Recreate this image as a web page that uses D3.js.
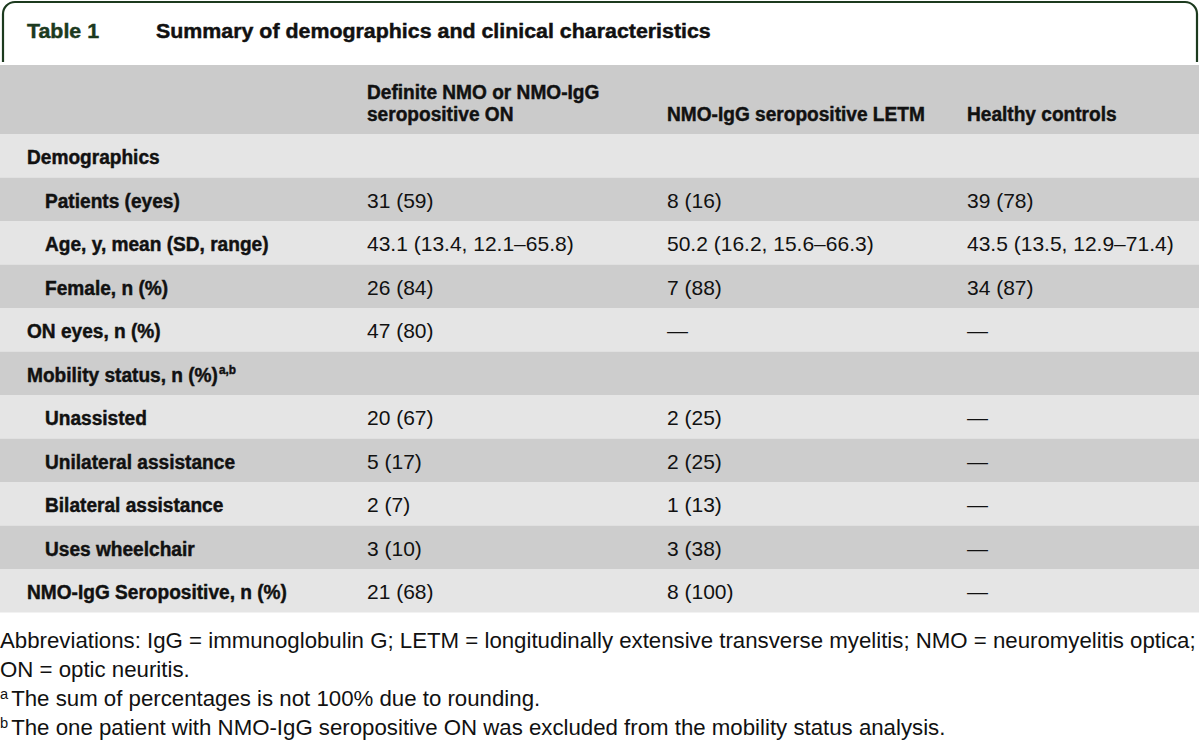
<!DOCTYPE html>
<html><head><meta charset="utf-8">
<script src="https://cdn.jsdelivr.net/npm/d3@7"></script>
<style>
html,body{margin:0;padding:0;background:#fff;}
svg{display:block;}
text{font-family:"Liberation Sans",Arial,sans-serif;}
</style></head>
<body>
<svg id="chart" width="1200" height="743"></svg>
<script>
const tableNumber = "Table 1";
const tableTitle = "Summary of demographics and clinical characteristics";
const headerLines = [
  [],
  ["Definite NMO or NMO-IgG", "seropositive ON"],
  ["NMO-IgG seropositive LETM"],
  ["Healthy controls"]
];
const rowLabels = ["Demographics","Patients (eyes)","Age, y, mean (SD, range)","Female, n (%)","ON eyes, n (%)","Mobility status, n (%)","Unassisted","Unilateral assistance","Bilateral assistance","Uses wheelchair","NMO-IgG Seropositive, n (%)"];
const rowSup = ["","","","","","a,b","","","","",""];
const rowIndent = [0,1,1,1,0,0,1,1,1,1,0];
const nmoOnValues = ["","31 (59)","43.1 (13.4, 12.1–65.8)","26 (84)","47 (80)","","20 (67)","5 (17)","2 (7)","3 (10)","21 (68)"];
const letmValues = ["","8 (16)","50.2 (16.2, 15.6–66.3)","7 (88)","—","","2 (25)","2 (25)","1 (13)","3 (38)","8 (100)"];
const controlValues = ["","39 (78)","43.5 (13.5, 12.9–71.4)","34 (87)","—","","—","—","—","—","—"];
const footnotes = [
  {sup:"", text:"Abbreviations: IgG = immunoglobulin G; LETM = longitudinally extensive transverse myelitis; NMO = neuromyelitis optica;"},
  {sup:"", text:"ON = optic neuritis."},
  {sup:"a", text:"The sum of percentages is not 100% due to rounding."},
  {sup:"b", text:"The one patient with NMO-IgG seropositive ON was excluded from the mobility status analysis."}
];

const W = 1200, H = 743;
const svg = d3.select("#chart");
const green = "#1c3a1e";
const ink = "#111";

function measure(str, weight, size){
  const t = svg.append("text").attr("font-size", size).attr("font-weight", weight).text(str);
  const w = t.node().getComputedTextLength();
  t.remove();
  return w;
}
const titleSize = 20.5, boldSize = 19.5, bodySize = 21;
const kTitle = 555 / measure(tableTitle, "bold", titleSize);
const kBold = 260 / measure("NMO-IgG Seropositive, n (%)", "bold", boldSize);
const footSize = 18 * 1196 / measure(footnotes[0].text, "normal", 18);

function placeText(parent, x, y, size, weight, k, fill){
  const t = parent.append("text")
    .attr("transform", `translate(${x},${y}) scale(${k},1)`)
    .attr("font-size", size).attr("font-weight", weight).attr("fill", fill);
  if (weight === "bold") t.attr("stroke", fill).attr("stroke-width", 0.45);
  return t;
}

// frame
const fp = d3.path();
fp.moveTo(3, 62); fp.lineTo(3, 14); fp.arcTo(3, 2, 15, 2, 12);
fp.lineTo(1185, 2); fp.arcTo(1197, 2, 1197, 14, 12); fp.lineTo(1197, 62);
svg.append("path").attr("d", fp.toString()).attr("fill","none").attr("stroke", green).attr("stroke-width", 2.2);

placeText(svg, 27, 37.5, titleSize, "bold", kTitle, green).text(tableNumber);
placeText(svg, 156, 37.5, titleSize, "bold", kTitle, ink).text(tableTitle);

// header band
const headerTop = 65, headerBottom = 134;
svg.append("rect").attr("x",0).attr("y",headerTop).attr("width",1199).attr("height",headerBottom-headerTop).attr("fill","#cbcbcb");

const colX = d3.scaleOrdinal().domain([0,1,2,3]).range([27,367,667,967]);
headerLines.forEach((lines, ci) => {
  lines.forEach((ln, li) => {
    const yy = 120.5 - (lines.length - 1 - li) * 22;
    placeText(svg, colX(ci), yy, boldSize, "bold", kBold, ink).text(ln);
  });
});

// rows
const y = d3.scaleBand().domain(d3.range(rowLabels.length)).range([headerBottom, 612.5]).padding(0);
const rows = svg.append("g").selectAll("g").data(rowLabels.map((l,i)=>({i,l}))).join("g")
  .attr("transform", d => `translate(0,${y(d.i)})`);
rows.append("rect").attr("x",0).attr("width",1199).attr("height", y.bandwidth())
  .attr("fill", d => d.i % 2 === 0 ? "#e5e5e5" : "#cdcdcd");
const mid = y.bandwidth()/2 + 8.3;
rows.each(function(d){
  const g = d3.select(this);
  const lab = placeText(g, rowIndent[d.i] ? 45 : 27, mid, boldSize, "bold", kBold, ink);
  lab.append("tspan").text(d.l);
  if (rowSup[d.i]) lab.append("tspan").attr("font-size", boldSize*0.62).attr("dy", -7.5).attr("dx", 1).text(rowSup[d.i]);
  [nmoOnValues, letmValues, controlValues].forEach((vals, k) => {
    if (vals[d.i]) placeText(g, colX(k+1), mid, bodySize, "normal", 1, ink).text(vals[d.i]);
  });
});

// footnotes
const fy = d3.scaleLinear().domain([0,3]).range([648, 735]);
footnotes.forEach((f, i) => {
  const t = svg.append("text").attr("x", 0).attr("y", fy(i)).attr("font-size", footSize).attr("fill", ink);
  if (f.sup) {
    t.append("tspan").attr("font-size", footSize*0.66).attr("dy", -7).text(f.sup);
    t.append("tspan").attr("dy", 7).attr("dx", 3).text(f.text);
  } else {
    t.text(f.text);
  }
});
</script>
</body></html>
